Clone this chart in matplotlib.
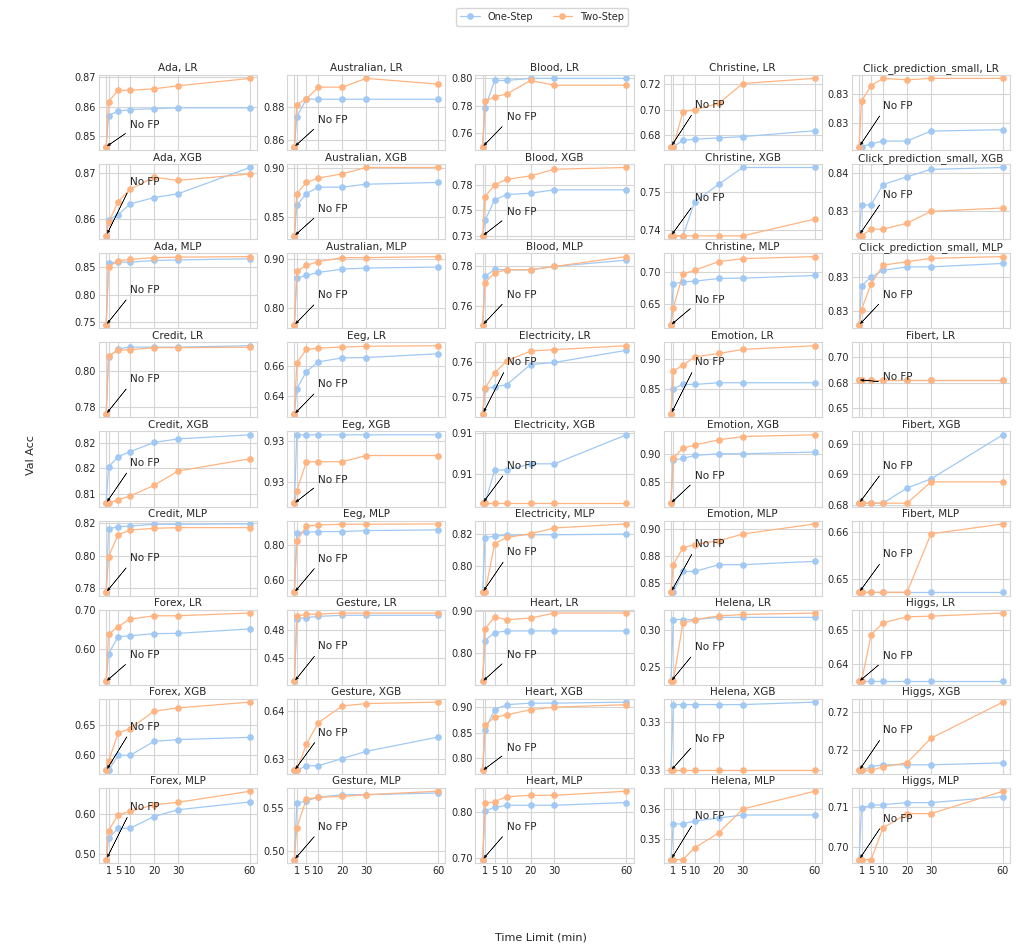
import matplotlib
matplotlib.use('Agg')
import matplotlib.pyplot as plt
from matplotlib.ticker import MaxNLocator, FormatStrFormatter
import seaborn as sns

# time limits in minutes, 0 = no feature preprocessing
times = [0, 1, 5, 10, 20, 30, 60]
datasets = ['Ada', 'Australian', 'Blood', 'Christine', 'Click_prediction_small',
            'Credit', 'Eeg', 'Electricity', 'Emotion', 'Fibert',
            'Forex', 'Gesture', 'Heart', 'Helena', 'Higgs']
models = ['LR', 'XGB', 'MLP']

ada_lr_one = [0.8465, 0.8570, 0.8585, 0.8590, 0.8593, 0.8596, 0.8596]
ada_lr_two = [0.8465, 0.8617, 0.8655, 0.8655, 0.8660, 0.8670, 0.8695]
ada_xgb_one = [0.8564, 0.8599, 0.8610, 0.8633, 0.8647, 0.8655, 0.8712]
ada_xgb_two = [0.8564, 0.8593, 0.8638, 0.8665, 0.8691, 0.8684, 0.8698]
ada_mlp_one = [0.745, 0.858, 0.859, 0.859, 0.862, 0.863, 0.865]
ada_mlp_two = [0.745, 0.851, 0.861, 0.864, 0.867, 0.868, 0.869]

australian_lr_one = [0.8562, 0.8740, 0.8846, 0.8844, 0.8844, 0.8844, 0.8844]
australian_lr_two = [0.8562, 0.8812, 0.8846, 0.8916, 0.8916, 0.8968, 0.8934]
australian_xgb_one = [0.8310, 0.8620, 0.8740, 0.8805, 0.8805, 0.8835, 0.8853]
australian_xgb_two = [0.8310, 0.8740, 0.8853, 0.8897, 0.8941, 0.9005, 0.9005]
australian_mlp_one = [0.7667, 0.8612, 0.8667, 0.8728, 0.8796, 0.8816, 0.8837]
australian_mlp_two = [0.7667, 0.8748, 0.8870, 0.8946, 0.9027, 0.9027, 0.9048]

blood_lr_one = [0.7502, 0.7783, 0.7985, 0.7985, 0.8000, 0.8000, 0.8000]
blood_lr_two = [0.7502, 0.7832, 0.7867, 0.7885, 0.7985, 0.7950, 0.7950]
blood_xgb_one = [0.7247, 0.7400, 0.7600, 0.7653, 0.7667, 0.7700, 0.7700]
blood_xgb_two = [0.7247, 0.7633, 0.7750, 0.7803, 0.7837, 0.7903, 0.7920]
blood_mlp_one = [0.7503, 0.7750, 0.7785, 0.7783, 0.7783, 0.7800, 0.7832]
blood_mlp_two = [0.7503, 0.7718, 0.7767, 0.7783, 0.7783, 0.7800, 0.7850]

christine_lr_one = [0.6711, 0.6711, 0.6761, 0.6770, 0.6780, 0.6790, 0.6836]
christine_lr_two = [0.6711, 0.6711, 0.6984, 0.7000, 0.7050, 0.7205, 0.7245]
christine_xgb_one = [0.7442, 0.7442, 0.7442, 0.7487, 0.7510, 0.7532, 0.7532]
christine_xgb_two = [0.7442, 0.7442, 0.7442, 0.7442, 0.7442, 0.7442, 0.7464]
christine_mlp_one = [0.6168, 0.6810, 0.6842, 0.6853, 0.6895, 0.6900, 0.6942]
christine_mlp_two = [0.6168, 0.6432, 0.6963, 0.7026, 0.7158, 0.7205, 0.7237]

click_prediction_small_lr_one = [0.8263, 0.8263, 0.8265, 0.8267, 0.8267, 0.8274, 0.8275]
click_prediction_small_lr_two = [0.8263, 0.8295, 0.8306, 0.8311, 0.8310, 0.8311, 0.8311]
click_prediction_small_xgb_one = [0.8234, 0.8314, 0.8316, 0.8370, 0.8391, 0.8411, 0.8416]
click_prediction_small_xgb_two = [0.8234, 0.8232, 0.8250, 0.8250, 0.8266, 0.8298, 0.8307]
click_prediction_small_mlp_one = [0.8292, 0.8315, 0.8320, 0.8324, 0.8326, 0.8326, 0.8328]
click_prediction_small_mlp_two = [0.8292, 0.8301, 0.8316, 0.8327, 0.8329, 0.8331, 0.8332]

credit_lr_one = [0.7763, 0.8078, 0.8124, 0.8133, 0.8133, 0.8133, 0.8141]
credit_lr_two = [0.7763, 0.8085, 0.8115, 0.8119, 0.8130, 0.8130, 0.8133]
credit_xgb_one = [0.8082, 0.8153, 0.8173, 0.8183, 0.8201, 0.8208, 0.8216]
credit_xgb_two = [0.8082, 0.8082, 0.8089, 0.8096, 0.8117, 0.8145, 0.8169]
credit_mlp_one = [0.7773, 0.8165, 0.8179, 0.8183, 0.8194, 0.8194, 0.8196]
credit_mlp_two = [0.7773, 0.7994, 0.8129, 0.8158, 0.8169, 0.8173, 0.8173]

eeg_lr_one = [0.6281, 0.6449, 0.6564, 0.6629, 0.6656, 0.6658, 0.6683]
eeg_lr_two = [0.6281, 0.6622, 0.6712, 0.6721, 0.6728, 0.6733, 0.6737]
eeg_xgb_one = [0.9270, 0.9303, 0.9303, 0.9303, 0.9303, 0.9303, 0.9303]
eeg_xgb_two = [0.9270, 0.9276, 0.9290, 0.9290, 0.9290, 0.9293, 0.9293]
eeg_mlp_one = [0.5333, 0.8710, 0.8730, 0.8767, 0.8767, 0.8824, 0.8862]
eeg_mlp_two = [0.5333, 0.8210, 0.9086, 0.9143, 0.9180, 0.9180, 0.9200]

electricity_lr_one = [0.7453, 0.7523, 0.7530, 0.7535, 0.7592, 0.7598, 0.7632]
electricity_lr_two = [0.7453, 0.7526, 0.7568, 0.7602, 0.7630, 0.7634, 0.7645]
electricity_xgb_one = [0.9066, 0.9066, 0.9082, 0.9082, 0.9085, 0.9085, 0.9099]
electricity_xgb_two = [0.9066, 0.9066, 0.9066, 0.9066, 0.9066, 0.9066, 0.9066]
electricity_mlp_one = [0.7840, 0.8177, 0.8188, 0.8192, 0.8196, 0.8196, 0.8200]
electricity_mlp_two = [0.7840, 0.7840, 0.8140, 0.8179, 0.8202, 0.8238, 0.8263]

emotion_lr_one = [0.8103, 0.8511, 0.8582, 0.8582, 0.8609, 0.8609, 0.8609]
emotion_lr_two = [0.8103, 0.8799, 0.8891, 0.9027, 0.9082, 0.9147, 0.9207]
emotion_xgb_one = [0.8127, 0.8892, 0.8922, 0.8976, 0.9006, 0.9006, 0.9036]
emotion_xgb_two = [0.8127, 0.8934, 0.9102, 0.9163, 0.9253, 0.9313, 0.9343]
emotion_mlp_one = [0.8413, 0.8413, 0.8606, 0.8606, 0.8669, 0.8669, 0.8700]
emotion_mlp_two = [0.8413, 0.8669, 0.8825, 0.8856, 0.8891, 0.8953, 0.9047]

fibert_lr_one = [0.6777, 0.6777, 0.6777, 0.6777, 0.6777, 0.6777, 0.6777]
fibert_lr_two = [0.6777, 0.6777, 0.6777, 0.6777, 0.6777, 0.6777, 0.6777]
fibert_xgb_one = [0.6841, 0.6841, 0.6841, 0.6841, 0.6851, 0.6857, 0.6886]
fibert_xgb_two = [0.6841, 0.6841, 0.6841, 0.6841, 0.6841, 0.6855, 0.6855]
fibert_mlp_one = [0.6472, 0.6472, 0.6472, 0.6472, 0.6472, 0.6472, 0.6472]
fibert_mlp_two = [0.6472, 0.6472, 0.6472, 0.6472, 0.6472, 0.6596, 0.6617]

forex_lr_one = [0.5188, 0.5889, 0.6316, 0.6342, 0.6393, 0.6402, 0.6513]
forex_lr_two = [0.5188, 0.6376, 0.6573, 0.6761, 0.6846, 0.6846, 0.6915]
forex_xgb_one = [0.5733, 0.5733, 0.5989, 0.5989, 0.6227, 0.6256, 0.6295]
forex_xgb_two = [0.5733, 0.5886, 0.6369, 0.6443, 0.6739, 0.6795, 0.6892]
forex_mlp_one = [0.4867, 0.5392, 0.5642, 0.5642, 0.5933, 0.6100, 0.6292]
forex_mlp_two = [0.4867, 0.5583, 0.5975, 0.6058, 0.6225, 0.6283, 0.6558]

gesture_lr_one = [0.4290, 0.4850, 0.4860, 0.4870, 0.4880, 0.4880, 0.4880]
gesture_lr_two = [0.4290, 0.4870, 0.4890, 0.4890, 0.4900, 0.4900, 0.4900]
gesture_xgb_one = [0.6275, 0.6275, 0.6285, 0.6285, 0.6300, 0.6315, 0.6345]
gesture_xgb_two = [0.6275, 0.6275, 0.6330, 0.6375, 0.6410, 0.6415, 0.6418]
gesture_mlp_one = [0.4900, 0.5550, 0.5580, 0.5620, 0.5650, 0.5650, 0.5670]
gesture_mlp_two = [0.4900, 0.5270, 0.5600, 0.5620, 0.5630, 0.5650, 0.5690]

heart_lr_one = [0.731, 0.829, 0.848, 0.852, 0.852, 0.852, 0.852]
heart_lr_two = [0.731, 0.857, 0.886, 0.879, 0.883, 0.895, 0.895]
heart_xgb_one = [0.775, 0.855, 0.895, 0.905, 0.908, 0.908, 0.910]
heart_xgb_two = [0.775, 0.865, 0.880, 0.885, 0.895, 0.900, 0.905]
heart_mlp_one = [0.6956, 0.804, 0.811, 0.816, 0.816, 0.816, 0.822]
heart_mlp_two = [0.6956, 0.820, 0.824, 0.835, 0.838, 0.838, 0.847]

helena_lr_one = [0.230, 0.315, 0.315, 0.315, 0.318, 0.318, 0.318]
helena_lr_two = [0.230, 0.230, 0.310, 0.315, 0.320, 0.322, 0.324]
helena_xgb_one = [0.3300, 0.3327, 0.3327, 0.3327, 0.3327, 0.3327, 0.3328]
helena_xgb_two = [0.3300, 0.3300, 0.3300, 0.3300, 0.3300, 0.3300, 0.3300]
helena_mlp_one = [0.343, 0.355, 0.355, 0.356, 0.357, 0.358, 0.358]
helena_mlp_two = [0.343, 0.343, 0.343, 0.347, 0.352, 0.360, 0.366]

higgs_lr_one = [0.6351, 0.6351, 0.6351, 0.6351, 0.6351, 0.6351, 0.6351]
higgs_lr_two = [0.6351, 0.6351, 0.6485, 0.6520, 0.6537, 0.6539, 0.6548]
higgs_xgb_one = [0.7149, 0.7149, 0.7151, 0.7152, 0.7152, 0.7152, 0.7153]
higgs_xgb_two = [0.7149, 0.7149, 0.7149, 0.7151, 0.7153, 0.7166, 0.7185]
higgs_mlp_one = [0.6970, 0.7098, 0.7103, 0.7105, 0.7110, 0.7110, 0.7125]
higgs_mlp_two = [0.6970, 0.6970, 0.6970, 0.7048, 0.7083, 0.7083, 0.7138]

# height of the "No FP" label in each panel (axes fraction), row by row
note_y = [[0.29, 0.36, 0.40, 0.56, 0.55],
          [0.72, 0.36, 0.32, 0.51, 0.55],
          [0.47, 0.40, 0.41, 0.34, 0.41],
          [0.47, 0.40, 0.70, 0.70, 0.50],
          [0.54, 0.32, 0.50, 0.37, 0.50],
          [0.46, 0.45, 0.54, 0.65, 0.51],
          [0.35, 0.47, 0.36, 0.46, 0.34],
          [0.59, 0.51, 0.31, 0.43, 0.54],
          [0.71, 0.44, 0.44, 0.59, 0.55]]

sns.set_style('whitegrid')
plt.rcParams['font.family'] = ['DejaVu Sans']
plt.rcParams['axes.edgecolor'] = '#d5d5d5'
plt.rcParams['grid.color'] = '#d5d5d5'
plt.rcParams['grid.linewidth'] = 0.8
plt.rcParams['axes.linewidth'] = 0.8

pal = sns.color_palette('pastel')
c_one, c_two = pal[0], pal[1]
txt = '#262626'

fig = plt.figure(figsize=(10.16, 9.49), dpi=100)
axes = fig.subplots(9, 5, sharex=True)
fig.subplots_adjust(left=0.0974, right=0.9941, top=0.921, bottom=0.0906,
                    wspace=0.191, hspace=0.185)

for r in range(9):
    for c in range(5):
        ax = axes[r, c]
        name = datasets[(r // 3) * 5 + c]
        model = models[r % 3]
        key = f'{name.lower()}_{model.lower()}'
        one = globals()[key + '_one']
        two = globals()[key + '_two']

        ax.plot(times, one, marker='o', markersize=3.8, linewidth=0.9,
                color=c_one, label='One-Step')
        ax.plot(times, two, marker='o', markersize=3.8, linewidth=0.9,
                color=c_two, label='Two-Step')

        ax.annotate('No FP', xy=(0, one[0]), xytext=(10, note_y[r][c]),
                    textcoords=('data', 'axes fraction'), fontsize=7.5, color=txt,
                    arrowprops=dict(facecolor='black', edgecolor='black', shrink=0.05,
                                    width=0.05, headwidth=1.8, headlength=2.2, lw=0.35))

        ax.set_title(f'{name}, {model}', fontsize=7.5, pad=2.5, color=txt)
        ax.yaxis.set_major_locator(MaxNLocator(nbins=3, steps=[1, 2, 2.5, 5, 10]))
        ax.yaxis.set_major_formatter(FormatStrFormatter('%.2f'))
        ax.tick_params(axis='both', labelsize=7, pad=2, length=0, labelcolor=txt)
        ax.set_xticks(times)
        ax.set_xticklabels(['', '1', '5', '10', '20', '30', '60'])

handles, labels = axes[0, 0].get_legend_handles_labels()
fig.legend(handles, labels, loc='upper center', bbox_to_anchor=(542 / 1016, 1 - 3 / 949),
           ncol=2, fontsize=7, frameon=True, handlelength=2.0, borderpad=0.4,
           labelcolor=txt)
fig.text(541 / 1016, 1 - 937 / 949, 'Time Limit (min)', ha='center', va='center',
         fontsize=8, color=txt)
fig.text(31 / 1016, 1 - 455 / 949, 'Val Acc', ha='center', va='center',
         rotation=90, fontsize=8, color=txt)

plt.savefig('out.png', dpi=100)
plt.close()
